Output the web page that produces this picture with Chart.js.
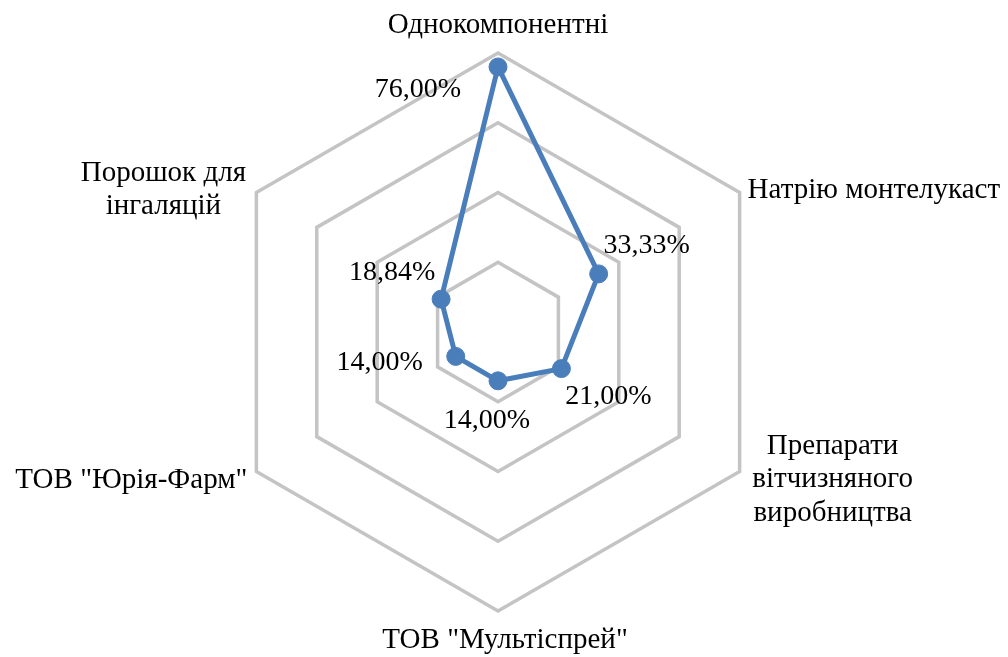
<!DOCTYPE html>
<html>
<head>
<meta charset="utf-8">
<script src="https://cdn.jsdelivr.net/npm/chart.js@4/dist/chart.umd.min.js"></script>
<style>
    html, body { margin: 0; padding: 0; background: #fff; }
    #wrap { width: 1008px; height: 657px; position: relative; }
</style>
</head>
<body>
<div id="wrap"><canvas id="radarChart"></canvas></div>
<script>
const categories = [
    ['Однокомпонентні'],
    ['Натрію монтелукаст'],
    ['Препарати', 'вітчизняного', 'виробництва'],
    ['ТОВ "Мультіспрей"'],
    ['ТОВ "Юрія-Фарм"'],
    ['Порошок для', 'інгаляцій']
];
const shares = [76.00, 33.33, 21.00, 14.00, 14.00, 18.84];
const axisMin = 0;
const axisMax = 80;
const axisStep = 20;

const serif = '"Liberation Serif", "Times New Roman", serif';
const lineBlue = '#4A7EBB';

const fmtPercent = (v) => v.toFixed(2).replace('.', ',') + '%';

// where each category label sits, relative to the outer ring vertex
const labelPlacement = [
    { dx: 0,   dy: -20, align: 'center' },
    { dx: 8,   dy: 5,   align: 'left' },
    { dx: 93,  dy: -18, align: 'center' },
    { dx: 7,   dy: 37,  align: 'center' },
    { dx: -9,  dy: 16,  align: 'right' },
    { dx: -93, dy: -12, align: 'center' }
];
// value label offsets from each point (centre of text)
const valueOffsets = [
    [-80, 23], [48, -28], [47, 28], [-11, 40], [-76, 6], [-49, -27]
];

const textPlugin = {
    id: 'radarTexts',
    afterDraw(chart) {
        const ctx = chart.ctx;
        const scale = chart.scales.r;
        ctx.save();
        ctx.fillStyle = '#000';

        ctx.font = `29px ${serif}`;
        ctx.textBaseline = 'alphabetic';
        categories.forEach((lines, i) => {
            const p = scale.getPointPosition(i, scale.drawingArea);
            const pl = labelPlacement[i];
            ctx.textAlign = pl.align;
            lines.forEach((line, k) => {
                ctx.fillText(line, p.x + pl.dx, p.y + pl.dy + k * 33.5);
            });
        });

        ctx.font = `28px ${serif}`;
        ctx.textAlign = 'center';
        ctx.textBaseline = 'middle';
        chart.getDatasetMeta(0).data.forEach((pt, i) => {
            const [dx, dy] = valueOffsets[i];
            ctx.fillText(fmtPercent(shares[i]), pt.x + dx, pt.y + dy);
        });
        ctx.restore();
    }
};

const initChart = () => {
    const ctx = document.getElementById('radarChart');
    new Chart(ctx, {
        type: 'radar',
        data: {
            labels: categories,
            datasets: [{
                data: shares,
                borderColor: lineBlue,
                backgroundColor: lineBlue,
                borderWidth: 5,
                fill: false,
                pointRadius: 9,
                pointBorderWidth: 1,
                pointBackgroundColor: lineBlue,
                pointBorderColor: lineBlue,
                tension: 0
            }]
        },
        options: {
            responsive: true,
            maintainAspectRatio: false,
            animation: false,
            layout: { padding: { top: 53, bottom: 46, left: 219, right: 231 } },
            plugins: {
                legend: { display: false },
                tooltip: { enabled: false }
            },
            scales: {
                r: {
                    min: axisMin,
                    max: axisMax,
                    ticks: { display: false, stepSize: axisStep },
                    grid: { circular: false, color: '#C4C4C4', lineWidth: 3.5 },
                    angleLines: { display: false },
                    pointLabels: { display: false }
                }
            }
        },
        plugins: [textPlugin]
    });
};

window.addEventListener('DOMContentLoaded', initChart);
</script>
</body>
</html>
